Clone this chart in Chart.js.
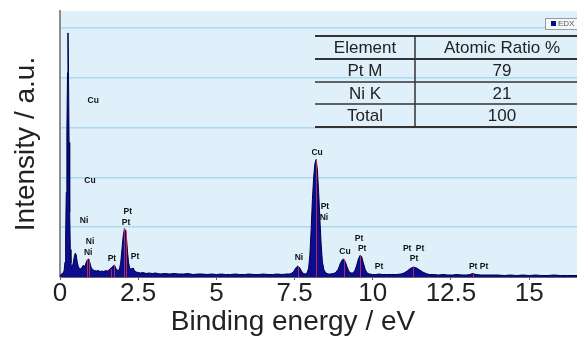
<!DOCTYPE html>
<html>
<head>
<meta charset="utf-8">
<script src="https://cdn.jsdelivr.net/npm/chart.js@4/dist/chart.umd.min.js"></script>
<style>
  html, body { margin: 0; padding: 0; background: #fff; }
  #wrap { width: 577px; height: 343px; }
</style>
</head>
<body>
<div id="wrap"><canvas id="edx" width="577" height="343"></canvas></div>
<script>
// EDX spectrum (energy in eV, intensity in arbitrary units)
const energy = [
  0.00, 0.05, 0.10, 0.13, 0.16, 0.18, 0.20, 0.22, 0.24, 0.255, 0.27, 0.29, 0.31, 0.33, 0.35, 0.37,
  0.40, 0.43, 0.46, 0.49, 0.52, 0.55, 0.59, 0.63, 0.67, 0.71, 0.75, 0.79, 0.83, 0.87, 0.91, 0.95,
  0.99, 1.04, 1.10, 1.16, 1.22, 1.28, 1.34, 1.40, 1.46, 1.52, 1.58, 1.64, 1.70, 1.74, 1.78, 1.82,
  1.86, 1.90, 1.94, 1.98, 2.02, 2.06, 2.10, 2.13, 2.16, 2.19, 2.22, 2.26, 2.30, 2.34, 2.38, 2.43,
  2.50, 2.58, 2.66, 2.75, 2.85, 2.95, 3.05, 3.20, 3.35, 3.50, 3.65, 3.80, 3.95, 4.10, 4.25, 4.40,
  4.55, 4.70, 4.85, 5.00, 5.15, 5.30, 5.45, 5.60, 5.75, 5.90, 6.05, 6.20, 6.35, 6.50, 6.65, 6.80,
  6.95, 7.10, 7.25, 7.35, 7.42, 7.48, 7.54, 7.60, 7.66, 7.72, 7.78, 7.84, 7.90, 7.95, 7.99, 8.03,
  8.07, 8.11, 8.15, 8.19, 8.23, 8.27, 8.31, 8.35, 8.39, 8.44, 8.50, 8.58, 8.66, 8.74, 8.82, 8.90,
  8.96, 9.02, 9.07, 9.12, 9.18, 9.24, 9.30, 9.36, 9.42, 9.48, 9.54, 9.60, 9.65, 9.70, 9.76, 9.82,
  9.90, 10.00, 10.10, 10.20, 10.30, 10.45, 10.60, 10.75, 10.90, 11.00, 11.10, 11.20, 11.30, 11.40, 11.50, 11.60,
  11.70, 11.80, 11.95, 12.10, 12.25, 12.40, 12.55, 12.70, 12.85, 13.00, 13.10, 13.20, 13.30, 13.45, 13.60, 13.80,
  14.00, 14.20, 14.40, 14.60, 14.80, 15.00, 15.20, 15.40, 15.60, 15.80, 16.00, 16.20, 16.40, 16.60
];
const intensity = [
  0.03, 0.06, 0.08, 0.12, 0.30, 0.80, 1.70, 2.90, 4.10, 4.90, 4.20, 2.70, 1.30, 0.55, 0.28, 0.18,
  0.22, 0.30, 0.42, 0.48, 0.44, 0.30, 0.20, 0.17, 0.16, 0.20, 0.24, 0.20, 0.28, 0.34, 0.36, 0.30,
  0.20, 0.15, 0.13, 0.12, 0.13, 0.11, 0.12, 0.11, 0.13, 0.12, 0.15, 0.18, 0.22, 0.24, 0.18, 0.14,
  0.13, 0.16, 0.28, 0.55, 0.82, 0.97, 0.93, 0.75, 0.50, 0.30, 0.20, 0.15, 0.17, 0.18, 0.13, 0.10,
  0.09, 0.08, 0.09, 0.07, 0.08, 0.07, 0.08, 0.06, 0.07, 0.06, 0.07, 0.06, 0.06, 0.07, 0.05, 0.06,
  0.06, 0.05, 0.06, 0.05, 0.06, 0.05, 0.05, 0.06, 0.05, 0.05, 0.06, 0.05, 0.05, 0.06, 0.05, 0.05,
  0.06, 0.05, 0.06, 0.06, 0.08, 0.12, 0.18, 0.22, 0.19, 0.12, 0.07, 0.06, 0.08, 0.18, 0.45, 0.95,
  1.55, 2.00, 2.28, 2.36, 2.15, 1.70, 1.15, 0.65, 0.30, 0.14, 0.08, 0.06, 0.06, 0.07, 0.09, 0.16,
  0.27, 0.34, 0.36, 0.31, 0.20, 0.11, 0.08, 0.08, 0.12, 0.22, 0.36, 0.44, 0.40, 0.28, 0.15, 0.08,
  0.06, 0.05, 0.05, 0.06, 0.05, 0.05, 0.05, 0.05, 0.06, 0.08, 0.12, 0.17, 0.20, 0.18, 0.14, 0.10,
  0.07, 0.05, 0.05, 0.04, 0.05, 0.04, 0.04, 0.05, 0.04, 0.04, 0.05, 0.07, 0.05, 0.04, 0.04, 0.04,
  0.04, 0.03, 0.04, 0.03, 0.04, 0.03, 0.04, 0.03, 0.03, 0.04, 0.03, 0.03, 0.03, 0.03
];

// red line markers (energy, top)
const markerEnergy = [0.87, 0.93, 1.62, 1.74, 2.06, 2.10, 7.60, 8.19, 9.07, 9.60, 11.30, 13.20];
const markerTop    = [0.34, 0.36, 0.16, 0.24, 0.97, 0.93, 0.22, 2.36, 0.36, 0.44, 0.20, 0.07];

// element labels on the peaks
const peakText = ['Cu', 'Cu', 'Ni', 'Ni', 'Ni', 'Pt', 'Pt', 'Pt', 'Pt', 'Ni', 'Cu', 'Pt', 'Ni', 'Cu', 'Pt', 'Pt', 'Pt', 'Pt', 'Pt', 'Pt', 'Pt', 'Pt'];
const peakX    = [1.06, 0.96, 0.77, 0.96, 0.90, 2.17, 2.11, 2.40, 1.66, 7.64, 8.22, 8.47, 8.44, 9.11, 9.56, 9.66, 10.20, 11.10, 11.51, 11.32, 13.21, 13.56];
const peakY    = [3.55, 1.93, 1.14, 0.70, 0.48, 1.31, 1.10, 0.40, 0.36, 0.38, 2.49, 1.41, 1.20, 0.50, 0.76, 0.56, 0.20, 0.56, 0.56, 0.36, 0.20, 0.20];

const xTickValues = [0, 2.5, 5, 7.5, 10, 12.5, 15];
const yGridValues = [1, 2, 3, 4, 5];

// composition table
const tableHeader = ['Element', 'Atomic Ratio %'];
const tableElement = ['Pt M', 'Ni K', 'Total'];
const tableRatio = ['79', '21', '100'];

const FONT = '"Liberation Sans", Arial, sans-serif';

const plotBackground = {
  id: 'plotBackground',
  beforeDraw(chart) {
    const { ctx, chartArea: a } = chart;
    ctx.save();
    ctx.fillStyle = '#e0f0fa';
    ctx.fillRect(a.left, a.top, a.right - a.left, a.bottom - a.top);
    ctx.restore();
  }
};

const peakMarks = {
  id: 'peakMarks',
  afterDatasetsDraw(chart) {
    const { ctx, scales: { x, y } } = chart;
    ctx.save();
    ctx.strokeStyle = 'rgba(225, 50, 70, 0.8)';
    ctx.lineWidth = 1;
    markerEnergy.forEach((e, i) => {
      const px = Math.round(x.getPixelForValue(e)) + 0.5;
      ctx.beginPath();
      ctx.moveTo(px, y.getPixelForValue(0));
      ctx.lineTo(px, y.getPixelForValue(markerTop[i]));
      ctx.stroke();
    });
    ctx.fillStyle = '#111';
    ctx.font = 'bold 8.5px ' + FONT;
    ctx.textAlign = 'center';
    ctx.textBaseline = 'middle';
    peakText.forEach((t, i) => {
      ctx.fillText(t, x.getPixelForValue(peakX[i]), y.getPixelForValue(peakY[i]));
    });
    ctx.restore();
  }
};

const ratioTable = {
  id: 'ratioTable',
  afterDraw(chart) {
    const { ctx } = chart;
    const left = 315, right = 580, mid = 415;
    const rows = [36, 59, 82, 104, 127];
    ctx.save();
    ctx.strokeStyle = '#333';
    rows.forEach((ry, i) => {
      ctx.lineWidth = (i === 0 || i === 1 || i === rows.length - 1) ? 2 : 1.5;
      ctx.beginPath();
      ctx.moveTo(left, ry);
      ctx.lineTo(right, ry);
      ctx.stroke();
    });
    ctx.lineWidth = 1.5;
    ctx.beginPath();
    ctx.moveTo(mid, rows[0]);
    ctx.lineTo(mid, rows[rows.length - 1]);
    ctx.stroke();

    ctx.fillStyle = '#222';
    ctx.font = '17px ' + FONT;
    ctx.textAlign = 'center';
    ctx.textBaseline = 'middle';
    const c1 = 365, c2 = 502;
    ctx.fillText(tableHeader[0], c1, (rows[0] + rows[1]) / 2 + 1);
    ctx.fillText(tableHeader[1], c2, (rows[0] + rows[1]) / 2 + 1);
    tableElement.forEach((el, i) => {
      const cy = (rows[i + 1] + rows[i + 2]) / 2 + 1;
      ctx.fillText(el, c1, cy);
      ctx.fillText(tableRatio[i], c2, cy);
    });

    // small legend box
    const ds = chart.data.datasets[0];
    ctx.fillStyle = '#f6f9fb';
    ctx.fillRect(545, 18, 40, 11);
    ctx.strokeStyle = '#9a9a9a';
    ctx.lineWidth = 1;
    ctx.strokeRect(545.5, 18.5, 40, 11);
    ctx.fillStyle = '#0a0a8a';
    ctx.fillRect(551, 21, 5, 5);
    ctx.fillStyle = '#555';
    ctx.font = '8px ' + FONT;
    ctx.textAlign = 'left';
    ctx.fillText(ds.label, 558, 24);
    ctx.restore();
  }
};

new Chart(document.getElementById('edx'), {
  type: 'line',
  data: {
    datasets: [{
      label: 'EDX',
      data: energy.map((e, i) => ({ x: e, y: intensity[i] })),
      borderColor: '#00004a',
      backgroundColor: '#0c0c8e',
      borderWidth: 1,
      fill: 'origin',
      pointRadius: 0,
      tension: 0
    }]
  },
  options: {
    responsive: false,
    devicePixelRatio: 1,
    animation: false,
    layout: { padding: { top: 11, right: 0, bottom: 0, left: 9 } },
    plugins: {
      legend: { display: false },
      tooltip: { enabled: false },
      title: {
        display: true,
        text: 'Binding energy / eV',
        position: 'bottom',
        color: '#222',
        font: { family: FONT, size: 28, weight: 'normal', lineHeight: 1.2 },
        padding: { top: 0, bottom: 4 }
      }
    },
    scales: {
      x: {
        type: 'linear',
        min: 0,
        max: 16.53,
        afterBuildTicks: s => { s.ticks = xTickValues.map(v => ({ value: v })); },
        afterFit: s => { s.height = 28.4; },
        ticks: {
          color: '#222',
          font: { family: FONT, size: 26, lineHeight: 1 },
          padding: 1,
          maxRotation: 0,
          callback: v => String(v)
        },
        grid: { drawOnChartArea: false, drawTicks: true, tickLength: 3, color: '#666' },
        border: { display: true, color: '#666', width: 1 }
      },
      y: {
        min: 0,
        max: 5.34,
        afterBuildTicks: s => { s.ticks = yGridValues.map(v => ({ value: v })); },
        afterFit: s => { s.width = 51; },
        ticks: { display: false },
        grid: { color: '#a8d9ee', lineWidth: 1.5, drawTicks: false },
        border: { display: true, color: '#8c8c8c', width: 2 },
        title: {
          display: true,
          text: 'Intensity / a.u.',
          color: '#222',
          font: { family: FONT, size: 28, lineHeight: 1.2 },
          padding: { top: 0, bottom: 0 }
        }
      }
    }
  },
  plugins: [plotBackground, peakMarks, ratioTable]
});
</script>
</body>
</html>
